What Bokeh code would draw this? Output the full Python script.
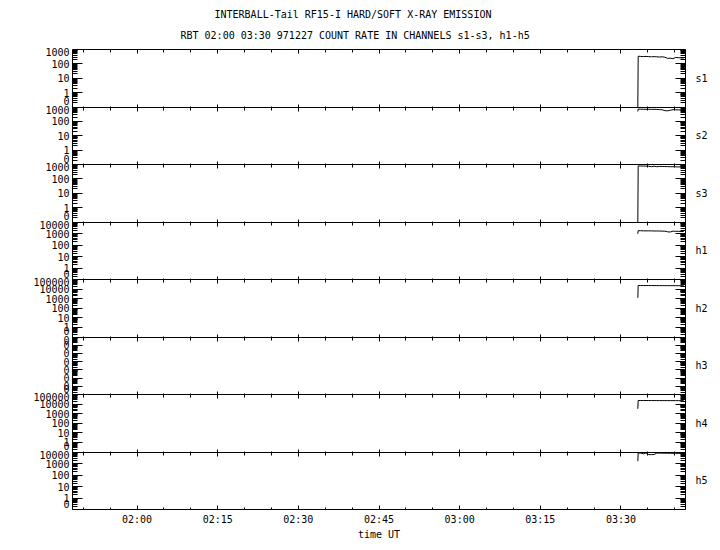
import pandas as pd
from bokeh.plotting import figure
from bokeh.models import (Range1d, LogScale, LogAxis, LinearAxis, DatetimeAxis, FixedTicker, Title)
from bokeh.embed import file_html
from bokeh.resources import INLINE

DAY = "1997-12-27"
TITLE1 = "INTERBALL-Tail RF15-I HARD/SOFT X-RAY EMISSION"
TITLE2 = "RBT 02:00 03:30 971227  COUNT RATE IN CHANNELS s1-s3, h1-h5"
X_START, X_END = "01:48:00", "03:42:00"
major_tick_times = ["02:00", "02:15", "02:30", "02:45", "03:00", "03:15", "03:30"]
minor_tick_times = ["01:50", "01:55", "02:05", "02:10", "02:20", "02:25", "02:35", "02:40",
                    "02:50", "02:55", "03:05", "03:10", "03:20", "03:25", "03:35", "03:40"]

channels = ["s1", "s2", "s3", "h1", "h2", "h3", "h4", "h5"]
# decade exponents of each panel's y axis (bottom, top)
decade_lo = [-1, -1, -1, -1, -1, -8, -1, -1]
decade_hi = [3, 3, 3, 4, 5, -1, 5, 4]

times = ["03:33:08", "03:33:12", "03:33:40", "03:34:10", "03:34:40", "03:35:10", "03:35:40",
         "03:36:10", "03:36:40", "03:37:10", "03:37:40", "03:38:10", "03:38:40", "03:39:10",
         "03:39:40", "03:40:10", "03:40:40", "03:41:10", "03:41:40"]
s1 = [0, 340, 330, 320, 330, 320, 310, 320, 310, 300, 310, 290, 240, 250, 230, 280, 270, 260, 260]
s2 = [490, 720, 700, 700, 690, 700, 680, 690, 680, 660, 640, 560, 540, 600, 650, 640, 630, 620, 610]
s3 = [0, 800, 790, 780, 770, 760, 700, 760, 700, 740, 730, 720, 710, 700, 700, 690, 680, 680, 670]
h1 = [950, 1750, 1750, 1700, 1700, 1700, 1700, 1650, 1650, 1650, 1600, 1600, 1400, 1350, 1600,
      1550, 1550, 1500, 1500]
h2 = [1230, 23600, 23500, 23500, 23400, 23300, 23200, 23200, 23100, 23000, 23000, 22900, 22800,
      22800, 22700, 22600, 22600, 22500, 22500]
h3 = []
h4 = [3200, 23800, 23700, 23600, 23500, 23500, 23400, 23300, 23300, 23200, 23100, 23100, 23000,
      22900, 22900, 22800, 22800, 22700, 22700]
h5 = [1600, 8200, 8000, 7000, 8300, 6000, 5900, 6100, 8100, 8000, 7900, 7900, 7800, 7800, 7700,
      7700, 7600, 7600, 7500]
series = {"s1": s1, "s2": s2, "s3": s3, "h1": h1, "h2": h2, "h3": h3, "h4": h4, "h5": h5}

FONT = "DejaVu Sans Mono"
FRAME_W, FRAME_H = 613, 460
TOP_LABEL_SHIFT_PX = 2.5     # extreme tick labels are nudged into their panel
BOTTOM_LABEL_SHIFT_PX = 6.0


def ms(t):
    if len(t) == 5:
        t = t + ":00"
    return pd.Timestamp(f"{DAY} {t}").value / 1e6


x0, x1 = ms(X_START), ms(X_END)
major_ms = [ms(t) for t in major_tick_times]
minor_ms = [ms(t) for t in minor_tick_times]
t_ms = [ms(t) for t in times]

N = len(channels)
panel_px = FRAME_H / N
p = figure(frame_width=FRAME_W, frame_height=FRAME_H, x_range=Range1d(x0, x1),
           y_range=Range1d(0, N), x_axis_type="datetime", toolbar_location=None,
           output_backend="svg", min_border_left=72, min_border_right=34,
           min_border_top=49, min_border_bottom=40)
p.xgrid.visible = False
p.ygrid.visible = False
p.outline_line_color = "black"
p.outline_line_alpha = 1
p.background_fill_color = "white"
p.border_fill_color = "white"

# primary bottom time axis
xa = p.xaxis[0]
xa.ticker = FixedTicker(ticks=major_ms, minor_ticks=minor_ms)
xa.major_label_overrides = dict(zip(major_ms, major_tick_times))
xa.major_tick_in, xa.major_tick_out = 4, 0
xa.minor_tick_in, xa.minor_tick_out = 2, 0
xa.major_label_standoff = 4
xa.axis_label = "time UT"
xa.axis_label_standoff = 1
xa.axis_label_text_font = FONT
xa.axis_label_text_font_size = "10px"
xa.axis_label_text_font_style = "normal"
xa.axis_label_text_color = "black"
xa.major_label_text_font = FONT
xa.major_label_text_font_size = "10px"
xa.major_label_text_color = "black"
xa.axis_line_color = "black"

label_ticks, label_texts, centers = [], [], []
for k, ch in enumerate(channels):
    lo, hi = decade_lo[k], decade_hi[k]
    D = hi - lo
    start = 10.0 ** (lo - (N - 1 - k) * D)
    end = 10.0 ** (hi + k * D)
    p.extra_y_ranges[ch] = Range1d(start, end)
    p.extra_y_scales[ch] = LogScale()
    ticks = [10.0 ** e for e in range(lo, hi + 1)]
    minors = [m * 10.0 ** e for e in range(lo, hi) for m in range(2, 10)]
    for side, loc in (("left", x0), ("right", x1)):
        ax = LogAxis(y_range_name=ch, fixed_location=loc, bounds=(10.0 ** lo, 10.0 ** hi),
                     ticker=FixedTicker(ticks=ticks, minor_ticks=minors),
                     major_label_overrides={t: "" for t in ticks},
                     axis_line_color=None, major_tick_in=10, major_tick_out=0,
                     minor_tick_in=5, minor_tick_out=0,
                     major_tick_line_color="black", minor_tick_line_color="black")
        p.add_layout(ax, side)

    # tick labels positioned on the shared panel axis
    base = N - 1 - k
    for e in range(lo, hi + 1):
        pos = base + (e - lo) / D
        if e == hi:
            pos -= TOP_LABEL_SHIFT_PX / panel_px
        if e == lo:
            pos += BOTTOM_LABEL_SHIFT_PX / panel_px
        label_ticks.append(pos)
        label_texts.append(f"{10.0 ** e:.0f}")
    centers.append(base + 0.5)

    # horizontal boundary with time ticks
    if k == 0:
        top = DatetimeAxis(y_range_name=ch, fixed_location=10.0 ** hi,
                           ticker=FixedTicker(ticks=major_ms, minor_ticks=minor_ms),
                           major_label_overrides={t: "" for t in major_ms},
                           major_tick_in=4, major_tick_out=0, minor_tick_in=3, minor_tick_out=0,
                           axis_line_color="black")
        p.add_layout(top, "above")
    if k < N - 1:
        bnd = DatetimeAxis(y_range_name=ch, fixed_location=10.0 ** lo,
                           ticker=FixedTicker(ticks=major_ms, minor_ticks=minor_ms),
                           major_label_overrides={t: "" for t in major_ms},
                           major_tick_in=3, major_tick_out=4, minor_tick_in=1, minor_tick_out=3,
                           axis_line_color="black")
        p.add_layout(bnd, "below")

    vals = series[ch]
    if vals:
        yv = [max(v, 10.0 ** lo) for v in vals]
        p.line(t_ms[:len(yv)], yv, y_range_name=ch, line_color="black", line_width=1)

ya = p.yaxis[0]
ya.ticker = FixedTicker(ticks=label_ticks, minor_ticks=[])
ya.major_label_overrides = dict(zip(label_ticks, label_texts))
ya.major_tick_in = ya.major_tick_out = 0
ya.minor_tick_in = ya.minor_tick_out = 0
ya.axis_line_color = None
ya.major_label_standoff = 3
ya.major_label_text_font = FONT
ya.major_label_text_font_size = "10px"
ya.major_label_text_color = "black"

ra = LinearAxis(ticker=FixedTicker(ticks=centers, minor_ticks=[]),
                major_label_overrides={c: ch for c, ch in zip(centers, channels)},
                major_tick_in=0, major_tick_out=0, minor_tick_in=0, minor_tick_out=0,
                axis_line_color=None, major_label_standoff=10,
                major_label_text_font=FONT, major_label_text_font_size="10px",
                major_label_text_color="black")
p.add_layout(ra, "right")

t2 = Title(text=TITLE2, align="left", offset=108, text_font=FONT, text_font_size="10px",
           text_font_style="normal", text_color="black", vertical_align="top", standoff=14)
t1 = Title(text=TITLE1, align="left", offset=142, text_font=FONT, text_font_size="10px",
           text_font_style="normal", text_color="black", standoff=6)
p.add_layout(t2, "above")
p.add_layout(t1, "above")

open("out.html", "w").write(file_html(p, INLINE))
